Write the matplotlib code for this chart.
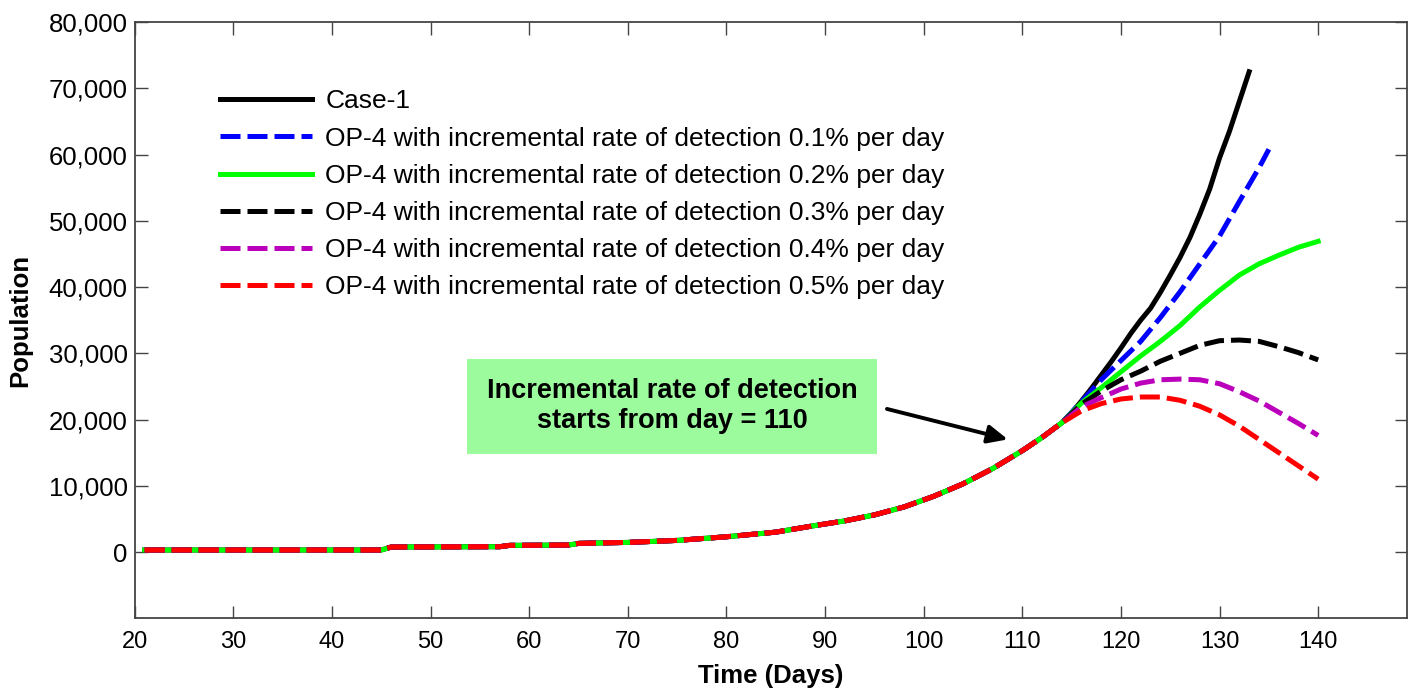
import numpy as np
import matplotlib.pyplot as plt
from matplotlib.ticker import FuncFormatter

plt.rcParams['font.family'] = ['Liberation Sans', 'DejaVu Sans']

# Shared part of all curves (days 21 - 114)
common_days = [21, 45, 46, 57, 58, 64, 65, 70, 75, 80, 85, 89, 92, 95, 98, 101, 104, 107, 110, 112, 114]
common_vals = [300, 300, 750, 800, 1000, 1050, 1300, 1450, 1750, 2300, 3000, 4000, 4700, 5600, 6800,
               8400, 10300, 12600, 15300, 17300, 19500]

# Tails after the curves split
case1_days = [115, 116, 117, 118, 119, 120, 121, 122, 123, 124, 125, 126, 127, 128, 129, 130, 131, 132, 133]
case1_vals = [21000, 22800, 24700, 26700, 28700, 30800, 33000, 35000, 36800, 39200, 41800, 44500,
              47500, 51000, 54800, 59500, 63500, 68000, 72500]

op01_days = [116, 118, 120, 122, 124, 126, 128, 130, 132, 134, 135]
op01_vals = [22700, 26000, 28900, 31800, 35400, 39300, 43500, 47700, 52900, 58000, 60800]

tail_days = [116, 118, 120, 122, 124, 126, 128, 130, 132, 134, 136, 138, 140]
op02_vals = [22500, 24800, 27200, 29600, 31800, 34200, 37000, 39500, 41800, 43500, 44800, 46000, 46900]
op03_vals = [22300, 24300, 26000, 27300, 28800, 30000, 31200, 31900, 32000, 31800, 31000, 30100, 29000]
op04_vals = [21900, 23300, 24600, 25500, 26000, 26100, 26000, 25400, 24200, 22800, 21100, 19400, 17600]
op05_vals = [21300, 22400, 23100, 23400, 23400, 22900, 22000, 20700, 19000, 17000, 15000, 13000, 11000]

labels = ['Case-1',
          'OP-4 with incremental rate of detection 0.1% per day',
          'OP-4 with incremental rate of detection 0.2% per day',
          'OP-4 with incremental rate of detection 0.3% per day',
          'OP-4 with incremental rate of detection 0.4% per day',
          'OP-4 with incremental rate of detection 0.5% per day']

series = [(case1_days, case1_vals, 'black', '-'),
          (op01_days, op01_vals, '#0000ff', '--'),
          (tail_days, op02_vals, '#00ff00', '-'),
          (tail_days, op03_vals, 'black', '--'),
          (tail_days, op04_vals, '#bb00bb', '--'),
          (tail_days, op05_vals, '#ff0000', '--')]

fig = plt.figure(figsize=(14.19, 6.90), dpi=100)
ax = fig.add_axes([0.095, 0.104, 0.8965, 0.864])

for (d, v, c, ls), lab in zip(series, labels):
    x = common_days + d
    y = common_vals + v
    if ls == '--':
        ax.plot(x, y, color=c, lw=3.6, linestyle=(0, (4, 1.4)), label=lab)
    else:
        ax.plot(x, y, color=c, lw=3.6, linestyle='-', label=lab)

ax.set_xlim(20, 149)
ax.set_ylim(-10000, 80000)
ax.set_xticks(np.arange(20, 141, 10))
ax.set_yticks(np.arange(0, 80001, 10000))
ax.yaxis.set_major_formatter(FuncFormatter(lambda v, p: '{:,.0f}'.format(v)))
ax.tick_params(direction='in', length=9, width=1, top=True, right=True,
               color='#444444', pad=5)
ax.tick_params(axis='y', labelsize=18.5)
ax.tick_params(axis='x', labelsize=17, pad=9)
for s in ax.spines.values():
    s.set_color('#444444')
    s.set_linewidth(1.3)

ax.set_xlabel('Time (Days)', fontsize=18.5, fontweight='bold', labelpad=8)
ax.set_ylabel('Population', fontsize=18.5, fontweight='bold', labelpad=12)

leg = ax.legend(loc='upper left', bbox_to_anchor=(0.048, 0.927), frameon=False, fontsize=19,
                handlelength=3.5, handletextpad=0.5, labelspacing=0.5)

ax.text(74.5, 22000, 'Incremental rate of detection\nstarts from day = 110', ha='center', va='center',
        fontsize=19.5, fontweight='bold', linespacing=1.2,
        bbox=dict(boxstyle='square,pad=0.72', facecolor='#9cfb9c', edgecolor='none'))
ax.annotate('', xy=(108.8, 16900), xytext=(96.0, 21700),
            arrowprops=dict(arrowstyle='-|>,head_length=1.2,head_width=0.55', color='black', lw=2.8))

fig.savefig('out.png', dpi=100)
